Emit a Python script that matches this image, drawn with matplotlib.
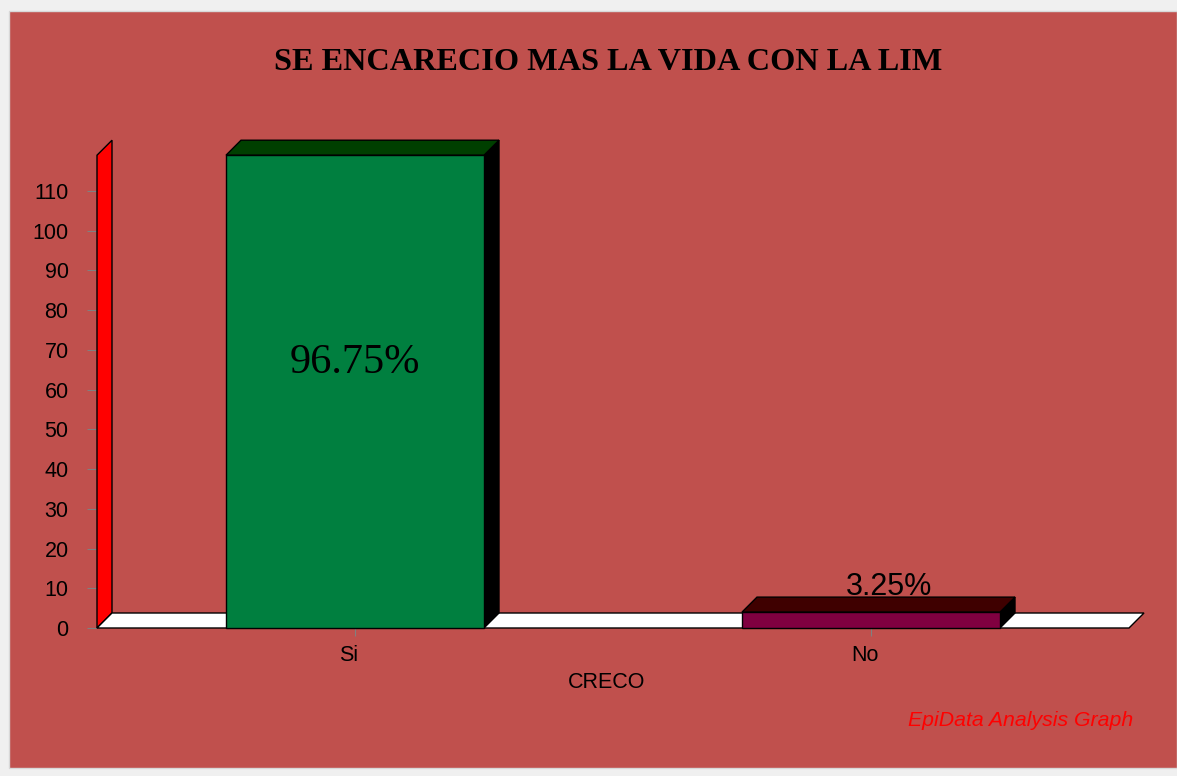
import matplotlib
matplotlib.use("Agg")
import matplotlib.pyplot as plt
from matplotlib.patches import Polygon, Rectangle
from matplotlib.transforms import ScaledTranslation

# ---- data ----
categories = ["Si", "No"]
counts = [119, 4]
percent_labels = ["96.75%", "3.25%"]
yticks = [0, 10, 20, 30, 40, 50, 60, 70, 80, 90, 100, 110]
title = "SE ENCARECIO MAS LA VIDA CON LA LIM"
xlabel = "CRECO"
footer = "EpiData Analysis Graph"

front_colors = ["#007F3F", "#800040"]
top_colors = ["#003F00", "#3F0000"]
side_color = "#000000"
bg_red = "#C0504D"

W, H = 1177, 776
fig = plt.figure(figsize=(W / 100, H / 100), dpi=100, facecolor="#F0F0F0")

# red panel
fig.patches.append(Rectangle((9 / W, (H - 768) / H), (W - 9) / W, (768 - 11) / H,
                             transform=fig.transFigure, facecolor=bg_red,
                             edgecolor="#D8D8D8", linewidth=1.0, zorder=-5))

ymax = max(counts)
px_per_unit = 3.973
ax = fig.add_axes([97 / W, (H - 628) / H, 1032 / W, ymax * px_per_unit / H])
ax.set_zorder(2)
ax.set_xlim(-0.5, 1.5)
ax.set_ylim(0, ymax)
ax.patch.set_visible(False)
for s in ax.spines.values():
    s.set_visible(False)

# depth offsets in data units (~15px)
dx = 15 / 516
dy = 15 / px_per_unit
x0, x1 = -0.5, 1.5

# wall
ax.add_patch(Polygon([(x0, 0), (x0, ymax), (x0 + dx, ymax + dy), (x0 + dx, dy)],
                     closed=True, facecolor="#FF0000", edgecolor="black",
                     linewidth=1.0, clip_on=False, zorder=2))
# floor
ax.add_patch(Polygon([(x0, 0), (x1, 0), (x1 + dx, dy), (x0 + dx, dy)],
                     closed=True, facecolor="white", edgecolor="black",
                     linewidth=1.0, clip_on=False, zorder=2))

bw = 0.5
xs = list(range(len(categories)))
for i, (x, v) in enumerate(zip(xs, counts)):
    l, r = x - bw / 2, x + bw / 2
    # side
    ax.add_patch(Polygon([(r, 0), (r, v), (r + dx, v + dy), (r + dx, dy)],
                         closed=True, facecolor=side_color, edgecolor="black",
                         linewidth=1.0, clip_on=False, zorder=3))
    # top
    ax.add_patch(Polygon([(l, v), (r, v), (r + dx, v + dy), (l + dx, v + dy)],
                         closed=True, facecolor=top_colors[i], edgecolor="black",
                         linewidth=1.0, clip_on=False, zorder=3))
    # front
    ax.add_patch(Rectangle((l, 0), bw, v, facecolor=front_colors[i],
                           edgecolor="black", linewidth=1.0, clip_on=False, zorder=4))

# percentage labels
ax.text(xs[0], 64.2, percent_labels[0], ha="center", va="baseline",
        fontsize=30.5, family="Liberation Serif", color="black", zorder=5)
ax.text(xs[1] + 0.035, counts[1] + dy + 0.5, percent_labels[1], ha="center", va="baseline",
        fontsize=22, family="Liberation Sans", color="black", zorder=5)

# ticks
ax.set_yticks(yticks)
ax.set_yticklabels([str(t) for t in yticks], family="Liberation Sans", fontsize=15.5)
ax.tick_params(axis="y", direction="out", length=7.5, width=0.8, color="#808080",
               pad=13, labelcolor="black")
ax.set_xticks(xs)
ax.set_xticklabels(categories, family="Liberation Sans", fontsize=15.5)
ax.tick_params(axis="x", direction="out", length=6, width=0.8, color="#808080",
               pad=6, labelcolor="black")
shift = ScaledTranslation(-6 / 100, 0, fig.dpi_scale_trans)
for lab in ax.get_xticklabels():
    lab.set_transform(lab.get_transform() + shift)
ax.set_xlabel(xlabel, family="Liberation Sans", fontsize=15.5, labelpad=6)
ax.xaxis.set_label_coords((606.5 - 97) / 1032, -44 / (ymax * px_per_unit))

fig.text(608 / W, 1 - 70 / H, title, ha="center", va="baseline",
         fontsize=23.2, fontweight="bold", family="Liberation Serif", color="black")
fig.text(1133 / W, 1 - 726 / H, footer, ha="right", va="baseline",
         fontsize=15.3, style="italic", family="Liberation Sans", color="#FF0000")

fig.savefig("out.png", dpi=100, facecolor=fig.get_facecolor())
